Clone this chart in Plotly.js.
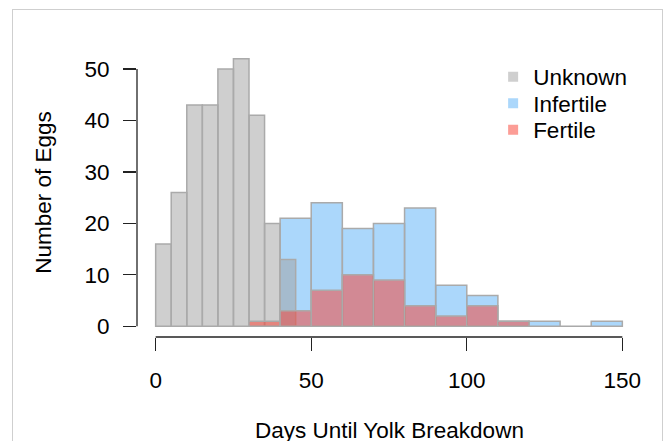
<!DOCTYPE html>
<html><head><meta charset="utf-8">
<script src="https://cdn.plot.ly/plotly-3.0.1.min.js"></script>
<style>
html,body{margin:0;padding:0;background:#fff;overflow:hidden}
#chart{width:665px;height:441px;position:absolute;left:0;top:0}
#frame{position:absolute;left:12px;top:9px;width:649px;height:480px;border:1.5px solid #cfcfcf;pointer-events:none}
</style></head>
<body><div id="chart"></div><div id="frame"></div>
<script>
// ---- data ----
const seriesNames = ['Unknown', 'Infertile', 'Fertile'];
const unknownBinStart = 0;
const unknownBinWidth = 5;
const unknownCounts = [16, 26, 43, 43, 50, 52, 41, 20, 13];
const infertileBinStart = 40;
const infertileBinWidth = 10;
const infertileCounts = [21, 24, 19, 20, 23, 8, 6, 1, 1, 0, 1];
const fertileBinStart = 30;
const fertileBinWidth = 10;
const fertileCounts = [1, 3, 7, 10, 9, 4, 2, 4, 1];
const xTicks = [0, 50, 100, 150];
const yTicks = [0, 10, 20, 30, 40, 50];
const xTitle = 'Days Until Yolk Breakdown';
const yTitle = 'Number of Eggs';

// ---- styles ----
const FONT = 'Liberation Sans, Arial, Helvetica, sans-serif';
const FS = 22.5;
const colUnknown = 'rgba(160,160,160,0.5)';
const colInfertile = 'rgba(88,176,248,0.5)';
const colFertile = 'rgba(250,60,45,0.5)';
const borderCol = 'rgb(170,170,170)';

function edges(start, w, n) { return Array.from({length: n}, (_, i) => start + i * w); }

function barTrace(name, start, w, counts, color) {
  return {
    type: 'bar', name: name, showlegend: false,
    x: edges(start, w, counts.length), y: counts,
    width: w, offset: 0,
    marker: {color: color, line: {color: borderCol, width: 1.5}},
    hoverinfo: 'x+y+name'
  };
}
function legendTrace(name, color, legendId) {
  return {
    type: 'scatter', mode: 'markers', name: name, x: [null], y: [null],
    legend: legendId,
    marker: {symbol: 'square', size: 10, color: color, line: {width: 0}}
  };
}

const traces = [
  barTrace(seriesNames[1], infertileBinStart, infertileBinWidth, infertileCounts, colInfertile),
  barTrace(seriesNames[0], unknownBinStart, unknownBinWidth, unknownCounts, colUnknown),
  barTrace(seriesNames[2], fertileBinStart, fertileBinWidth, fertileCounts, colFertile),
  legendTrace(seriesNames[0], colUnknown, 'legend'),
  legendTrace(seriesNames[1], colInfertile, 'legend2'),
  legendTrace(seriesNames[2], colFertile, 'legend3')
];

const axisCommon = {
  ticks: 'outside', ticklen: 13, tickwidth: 1.3, tickcolor: '#222',
  showgrid: false, zeroline: false, showline: false,
  tickfont: {family: FONT, size: FS, color: '#000'},
  fixedrange: true
};

const xPad = (xTicks[xTicks.length - 1] - xTicks[0]) * 0.04;
const yMax = Math.max(...unknownCounts, ...infertileCounts, ...fertileCounts);
const yPad = yMax * 0.04;

function legendBox(yc) {
  return {x: 0.7066, y: yc, xanchor: 'left', yanchor: 'middle',
          bgcolor: 'rgba(0,0,0,0)', borderwidth: 0,
          font: {family: FONT, size: FS, color: '#000'}, itemsizing: 'trace'};
}

const layout = {
  width: 665, height: 441,
  margin: {l: 137.4, r: 24.3, t: 48, b: 104.3, pad: 0},
  paper_bgcolor: 'rgba(0,0,0,0)', plot_bgcolor: 'rgba(0,0,0,0)',
  font: {family: FONT, size: FS, color: '#000'},
  barmode: 'overlay', bargap: 0,
  showlegend: true,
  legend: legendBox(0.8996),
  legend2: legendBox(0.8078),
  legend3: legendBox(0.716),
  xaxis: Object.assign({}, axisCommon, {
    range: [xTicks[0] - xPad, xTicks[xTicks.length - 1] + xPad],
    tickvals: xTicks, ticklabelstandoff: 10
  }),
  yaxis: Object.assign({}, axisCommon, {
    range: [-yPad, yMax + yPad],
    tickvals: yTicks, ticklabelstandoff: 9,
    title: {text: yTitle, font: {family: FONT, size: FS, color: '#000'}, standoff: 26}
  }),
  annotations: [
    {text: xTitle, xref: 'paper', yref: 'paper', x: 0.5, y: 0,
     xanchor: 'center', yanchor: 'middle', yshift: -93, showarrow: false,
     font: {family: FONT, size: FS, color: '#000'}}
  ],
  shapes: [
    {type: 'line', xref: 'x', yref: 'paper', x0: xTicks[0], x1: xTicks[xTicks.length - 1], y0: 0, y1: 0,
     line: {color: '#222', width: 1.3}},
    {type: 'line', xref: 'paper', yref: 'y', x0: 0, x1: 0, y0: yTicks[0], y1: yTicks[yTicks.length - 1],
     line: {color: '#222', width: 1.3}}
  ]
};

Plotly.newPlot('chart', traces, layout, {displayModeBar: false, staticPlot: true});
</script>
</body></html>
